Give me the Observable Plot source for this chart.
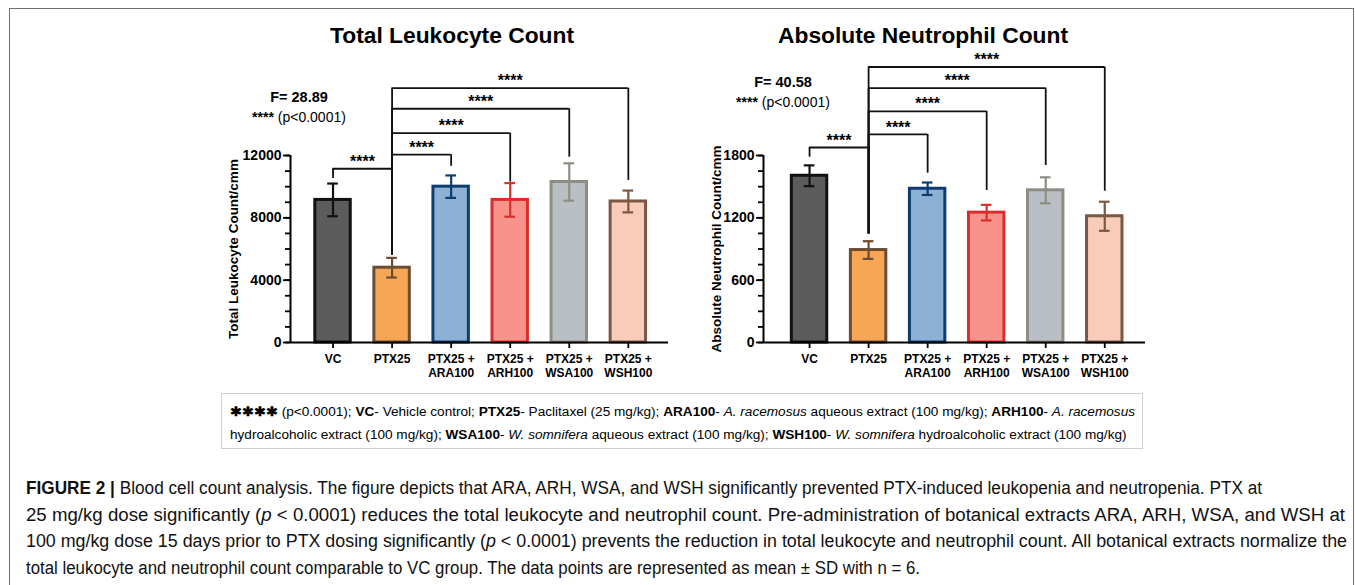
<!DOCTYPE html>
<html><head><meta charset="utf-8">
<script src="https://cdn.jsdelivr.net/npm/d3@7"></script>
<script src="https://cdn.jsdelivr.net/npm/@observablehq/plot@0.6"></script>
<style>
body{margin:0;background:#fff;font-family:Arial,"Liberation Sans",Helvetica,sans-serif;color:#000}
#page{position:relative;width:1355px;height:585px;overflow:hidden;background:#fff}
#border{position:absolute;left:9px;top:8px;width:1345px;height:640px;border:1.5px solid #707070;box-sizing:border-box}
.abs{position:absolute;white-space:nowrap}
.center{transform:translate(-50%,-50%)}
.title{font-weight:bold;font-size:22.8px}
.fval{font-weight:bold;font-size:14.5px}
.pval{font-size:14px}
#legend{position:absolute;left:221px;top:393px;width:922px;height:56px;border:1.5px solid #cfcfcf;box-sizing:border-box}
.leg{font-size:12.5px;transform-origin:0 50%;transform:translateY(-50%)}
.cap{font-family:"Liberation Sans Narrow",Arial,"Liberation Sans",sans-serif;font-size:18px;transform-origin:0 50%;color:#111}
svg{position:absolute}
</style>
</head><body>
<div id="page">
  <div id="border"></div>
  <div id="charts"></div>
  <div class="abs center title" style="left:452px;top:35px">Total Leukocyte Count</div>
  <div class="abs center title" style="left:923px;top:35px">Absolute Neutrophil Count</div>
  <div class="abs center fval" style="left:299px;top:97px">F= 28.89</div>
  <div class="abs center pval" style="left:299px;top:117px"><b>****</b> (p&lt;0.0001)</div>
  <div class="abs center fval" style="left:783px;top:82px">F= 40.58</div>
  <div class="abs center pval" style="left:783px;top:102px"><b>****</b> (p&lt;0.0001)</div>
  <div id="legend"></div>
  <div class="abs leg" id="leg1" style="left:230px;top:411px"><b>✱✱✱✱</b> (p&lt;0.0001); <b>VC</b>- Vehicle control; <b>PTX25</b>- Paclitaxel (25 mg/kg); <b>ARA100</b>- <i>A. racemosus</i> aqueous extract (100 mg/kg); <b>ARH100</b>- <i>A. racemosus</i></div>
  <div class="abs leg" id="leg2" style="left:230px;top:435px">hydroalcoholic extract (100 mg/kg); <b>WSA100</b>- <i>W. somnifera</i> aqueous extract (100 mg/kg); <b>WSH100</b>- <i>W. somnifera</i> hydroalcoholic extract (100 mg/kg)</div>
  <div class="abs cap" id="cap1" style="left:26px;top:478px"><b>FIGURE 2 |</b> Blood cell count analysis. The figure depicts that ARA, ARH, WSA, and WSH significantly prevented PTX-induced leukopenia and neutropenia. PTX at</div>
  <div class="abs cap" id="cap2" style="left:26px;top:504.5px">25 mg/kg dose significantly (<i>p</i> &lt; 0.0001) reduces the total leukocyte and neutrophil count. Pre-administration of botanical extracts ARA, ARH, WSA, and WSH at</div>
  <div class="abs cap" id="cap3" style="left:26px;top:531px">100 mg/kg dose 15 days prior to PTX dosing significantly (<i>p</i> &lt; 0.0001) prevents the reduction in total leukocyte and neutrophil count. All botanical extracts normalize the</div>
  <div class="abs cap" id="cap4" style="left:26px;top:557.5px">total leukocyte and neutrophil count comparable to VC group. The data points are represented as mean ± SD with n = 6.</div>
</div>
<script>
// ---- data ----
const groups = ["VC", "PTX25", "PTX25 +\nARA100", "PTX25 +\nARH100", "PTX25 +\nWSA100", "PTX25 +\nWSH100"];
const tlcMean = [9150, 4800, 10000, 9150, 10300, 9050];
const tlcSD = [1050, 630, 720, 1080, 1200, 700];
const ancMean = [1605, 890, 1480, 1250, 1465, 1215];
const ancSD = [100, 85, 60, 75, 125, 140];
const tlcTicks = [0, 4000, 8000, 12000];
const ancTicks = [0, 600, 1200, 1800];
const tlcMinor = d3.range(0, 12001, 1000);
const ancMinor = d3.range(0, 1801, 150);
// significance comparisons (group index pairs)
const comparisons = [[0, 1], [1, 2], [1, 3], [1, 4], [1, 5]];
const sigLabel = "****";
// bracket heights and leg ends (data units)
const tlcBracket = [11150, 12050, 13430, 15000, 16320];
const tlcLegA = [10520, 5580, 5580, 5580, 5580];
const tlcLegB = [5580, 11310, 10290, 11890, 10400];
const ancBracket = [1877, 2003, 2225, 2449, 2652];
const ancLegA = [1784, 1045, 1045, 1045, 1045];
const ancLegB = [1045, 1630, 1463, 1704, 1456];
// palette
const fillColors = ["#5c5c5c", "#f7a655", "#8db0d5", "#f8938b", "#b9bfc5", "#f9ccb9"];
const strokeColors = ["#111111", "#6c4d32", "#0c3d6e", "#da2e2e", "#8f8c84", "#7a5843"];

function chart(o) {
  const bars = groups.map((g, i) => ({i, mean: o.means[i], sd: o.sds[i], fill: fillColors[i], stroke: strokeColors[i]}));
  const br = comparisons.map(([a, b], k) => ({a, b, h: o.brY[k], la: o.legA[k], lb: o.legB[k]}));
  const hw = 0.3, cap = 0.09;
  const svg = Plot.plot({
    width: o.width, height: 372,
    marginLeft: o.marginLeft, marginRight: o.marginRight, marginTop: 135, marginBottom: 50,
    x: {domain: o.xDomain, axis: null},
    y: {domain: [0, o.yMax], axis: null},
    style: {fontFamily: "Arial, 'Liberation Sans', sans-serif", color: "#000", overflow: "visible", background: "transparent"},
    marks: [
      Plot.rectY(bars, {x1: d => d.i - hw, x2: d => d.i + hw, y1: 0, y2: "mean", fill: "fill", stroke: "stroke", strokeWidth: 3}),
      Plot.ruleX(bars, {x: "i", y1: d => d.mean - d.sd, y2: d => d.mean + d.sd, stroke: "stroke", strokeWidth: 2.2}),
      Plot.ruleY(bars, {y: d => d.mean + d.sd, x1: d => d.i - cap, x2: d => d.i + cap, stroke: "stroke", strokeWidth: 2.2}),
      Plot.ruleY(bars, {y: d => d.mean - d.sd, x1: d => d.i - cap, x2: d => d.i + cap, stroke: "stroke", strokeWidth: 2.2}),
      Plot.ruleY(br, {y: "h", x1: "a", x2: "b", stroke: "#111", strokeWidth: 1.8}),
      Plot.ruleX(br, {x: "a", y1: "la", y2: "h", stroke: "#111", strokeWidth: 1.8}),
      Plot.ruleX(br, {x: "b", y1: "lb", y2: "h", stroke: "#111", strokeWidth: 1.8}),
      Plot.text(br, {x: d => (d.a + d.b) / 2, y: "h", text: () => sigLabel, dy: -7, fontSize: 16, fontWeight: "bold"}),
      Plot.ruleY([0], {stroke: "#000", strokeWidth: 2}),
      Plot.ruleX([o.xDomain[0]], {y1: 0, y2: o.yMax, stroke: "#000", strokeWidth: 2}),
      Plot.axisY({ticks: o.minor, tickSize: 5, tickFormat: () => "", strokeWidth: 1.8, label: null}),
      Plot.axisY({ticks: o.ticks, tickSize: 7, tickPadding: 2, tickFormat: d => String(d), fontSize: 14, fontWeight: "bold", strokeWidth: 1.8, label: null}),
      Plot.axisX({ticks: d3.range(groups.length), tickFormat: i => groups[i], tickSize: 6, tickPadding: 5, fontSize: 12, fontWeight: "bold", lineHeight: 1.15, strokeWidth: 1.8, label: null}),
      Plot.text([o.yLabel], {frameAnchor: "left", dx: -o.labelOffset, rotate: -90, textAnchor: "middle", lineAnchor: "middle", fontSize: 13.5, fontWeight: "bold"})
    ]
  });
  svg.style.left = o.left + "px";
  svg.style.top = "20px";
  return svg;
}

const charts = document.getElementById("charts");
charts.appendChild(chart({
  means: tlcMean, sds: tlcSD, yMax: 12000, ticks: tlcTicks, minor: tlcMinor,
  brY: tlcBracket, legA: tlcLegA, legB: tlcLegB, yLabel: "Total Leukocyte Count/cmm",
  xDomain: [-0.72, 5.68], width: 460, left: 220, marginLeft: 70, marginRight: 12, labelOffset: 57
}));
charts.appendChild(chart({
  means: ancMean, sds: ancSD, yMax: 1800, ticks: ancTicks, minor: ancMinor,
  brY: ancBracket, legA: ancLegA, legB: ancLegB, yLabel: "Absolute Neutrophil Count/cmm",
  xDomain: [-0.78, 5.69], width: 457, left: 700, marginLeft: 63, marginRight: 12, labelOffset: 47
}));

// fit caption / legend line widths to the reference line ends
function fit(ids, left) {
  const scales = ids.map(([id, right]) => {
    const el = document.getElementById(id);
    return right ? (right - left) / el.getBoundingClientRect().width : null;
  });
  const valid = scales.filter(s => s);
  const avg = valid.reduce((a, b) => a + b, 0) / valid.length;
  ids.forEach(([id], k) => {
    const el = document.getElementById(id);
    const s = scales[k] || avg;
    el.style.transform = (el.classList.contains("leg") ? "translateY(-50%) " : "") + `scaleX(${s})`;
  });
}
fit([["cap1", 1262], ["cap2", 1345], ["cap3", 1347], ["cap4", 920]], 26);
fit([["leg1", 1135], ["leg2", null]], 230);
</script>
</body></html>
